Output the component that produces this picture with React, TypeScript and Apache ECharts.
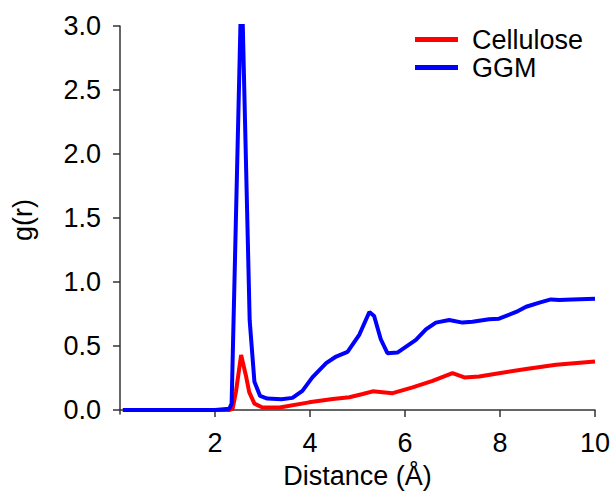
import React, { useEffect, useRef } from "react";
import * as echarts from "echarts";

const seriesNames = ["Cellulose", "GGM"];

const celluloseX = [0.06, 1.0, 2.0, 2.3, 2.37, 2.44, 2.55, 2.65, 2.72, 2.83, 3.0, 3.36, 3.98, 4.48, 4.83, 5.11, 5.32, 5.74, 6.16, 6.58, 7.0, 7.25, 7.56, 7.98, 8.55, 9.18, 10.0];
const celluloseY = [0, 0, 0, 0, 0.01, 0.14, 0.43, 0.27, 0.14, 0.05, 0.02, 0.02, 0.06, 0.086, 0.1, 0.125, 0.146, 0.132, 0.177, 0.228, 0.288, 0.255, 0.262, 0.288, 0.32, 0.353, 0.38];

const ggmX = [0.06, 1.0, 2.0, 2.3, 2.35, 2.56, 2.73, 2.83, 2.95, 3.1, 3.4, 3.63, 3.84, 4.05, 4.34, 4.55, 4.79, 5.04, 5.25, 5.35, 5.49, 5.63, 5.84, 6.23, 6.44, 6.65, 6.93, 7.21, 7.42, 7.77, 7.98, 8.34, 8.55, 8.83, 9.07, 9.25, 9.52, 10.0];
const ggmY = [0, 0, 0, 0.01, 0.05, 3.4, 0.7, 0.22, 0.11, 0.09, 0.085, 0.095, 0.15, 0.255, 0.366, 0.418, 0.454, 0.59, 0.766, 0.735, 0.553, 0.444, 0.449, 0.548, 0.63, 0.683, 0.703, 0.683, 0.69, 0.709, 0.714, 0.766, 0.807, 0.839, 0.864, 0.859, 0.864, 0.87];

const xTicks = [2, 4, 6, 8, 10];
const yTicks = [0, 0.5, 1, 1.5, 2, 2.5, 3];

const FONT = "'Liberation Sans', Arial, Helvetica, sans-serif";

export default function App() {
  const ref = useRef<HTMLDivElement>(null);
  useEffect(() => {
    if (!ref.current) return;
    const chart = echarts.init(ref.current, null, { renderer: "svg" });
    const zip = (xs: number[], ys: number[]) => xs.map((x, i) => [x, ys[i]]);
    chart.setOption({
      animation: false,
      backgroundColor: "#ffffff",
      textStyle: { fontFamily: FONT },
      grid: { left: 120, right: 18, top: 26, bottom: 77, containLabel: false, outerBoundsMode: "none" },
      legend: {
        orient: "vertical",
        left: 410,
        top: 21,
        icon: "rect",
        itemWidth: 43,
        itemHeight: 5,
        itemGap: 1,
        data: seriesNames,
        textStyle: { fontSize: 27, color: "#000", fontFamily: FONT, padding: [0, 0, 0, 9] },
      },
      xAxis: {
        type: "value",
        min: 0,
        max: 10,
        interval: 2,
        name: "Distance (Å)",
        nameLocation: "middle",
        nameGap: 48,
        nameTextStyle: { fontSize: 27, color: "#000", fontFamily: FONT },
        axisLine: { show: true, lineStyle: { color: "#333", width: 1.5 } },
        axisTick: { show: true, length: 7, lineStyle: { color: "#333", width: 1.5 }, customValues: xTicks },
        axisLabel: { fontSize: 27, color: "#000", margin: 15, customValues: xTicks, fontFamily: FONT },
        splitLine: { show: false },
      },
      yAxis: {
        type: "value",
        min: -0.031,
        max: 3,
        name: "g(r)",
        nameLocation: "middle",
        nameGap: 84,
        nameRotate: 90,
        nameTextStyle: { fontSize: 27, color: "#000", fontFamily: FONT },
        axisLine: { show: true, lineStyle: { color: "#333", width: 1.5 } },
        axisTick: { show: true, length: 7, lineStyle: { color: "#333", width: 1.5 }, customValues: yTicks },
        axisLabel: {
          fontSize: 27,
          color: "#000",
          margin: 19,
          customValues: yTicks,
          fontFamily: FONT,
          formatter: (v: number) => v.toFixed(1),
        },
        splitLine: { show: false },
      },
      series: [
        {
          name: seriesNames[0],
          type: "line",
          data: zip(celluloseX, celluloseY),
          showSymbol: false,
          symbol: "none",
          lineStyle: { color: "#ff0000", width: 4 },
          itemStyle: { color: "#ff0000" },
          clip: true,
          z: 2,
        },
        {
          name: seriesNames[1],
          type: "line",
          data: zip(ggmX, ggmY),
          showSymbol: false,
          symbol: "none",
          lineStyle: { color: "#0000ff", width: 4 },
          itemStyle: { color: "#0000ff" },
          clip: true,
          z: 3,
        },
      ],
    });
    return () => chart.dispose();
  }, []);
  return <div ref={ref} style={{ width: 613, height: 491, position: "absolute", left: 0, top: 0 }} />;
}
